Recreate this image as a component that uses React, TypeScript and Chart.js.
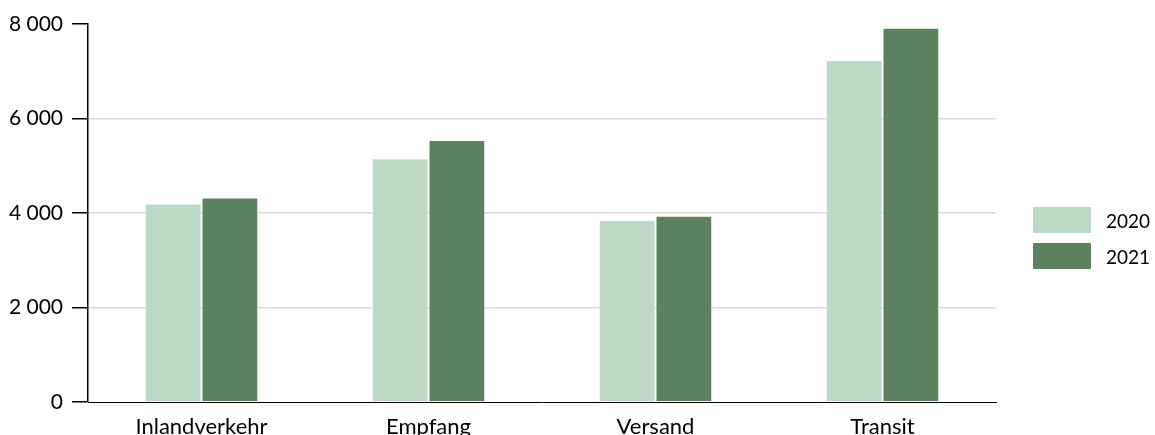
import React, { useEffect, useRef } from "react";
import { Chart, registerables } from "chart.js";

Chart.register(...registerables);

const categories = ["Inlandverkehr", "Empfang", "Versand", "Transit"];
const series2020 = [4200, 5160, 3850, 7240];
const series2021 = [4330, 5545, 3940, 7920];
const seriesLabels = ["2020", "2021"];
const seriesColors = ["#bed8c8", "#5b815e"];
const yTicks = [0, 2000, 4000, 6000, 8000];

const FONT = "Lato, 'Open Sans', sans-serif";

function fmt(v: number): string {
  return String(v).replace(/\B(?=(\d{3})+(?!\d))/g, " ");
}

export default function App() {
  const ref = useRef<HTMLCanvasElement | null>(null);

  useEffect(() => {
    if (!ref.current) return;
    const chart = new Chart(ref.current, {
      type: "bar",
      data: {
        labels: categories,
        datasets: [
          {
            label: seriesLabels[0],
            data: series2020,
            backgroundColor: seriesColors[0],
            borderColor: "rgba(255,255,255,0.45)",
            borderWidth: 1,
            barPercentage: 1,
            categoryPercentage: 0.5,
          },
          {
            label: seriesLabels[1],
            data: series2021,
            backgroundColor: seriesColors[1],
            borderColor: "rgba(255,255,255,0.45)",
            borderWidth: 1,
            barPercentage: 1,
            categoryPercentage: 0.5,
          },
        ],
      },
      options: {
        animation: false,
        responsive: true,
        maintainAspectRatio: false,
        layout: { padding: { top: 24, right: 159, left: 0, bottom: 0 } },
        plugins: {
          legend: { display: false },
          tooltip: { enabled: false },
        },
        scales: {
          x: {
            grid: { display: false, drawTicks: false },
            border: { display: true, color: "#000", width: 1 },
            ticks: {
              color: "#000",
              font: { family: FONT, size: 22 },
              padding: 12,
              maxRotation: 0,
            },
            afterFit: (s: any) => {
              s.height = 74;
            },
          },
          y: {
            min: 0,
            max: 8000,
            afterBuildTicks: (s: any) => {
              s.ticks = yTicks.map((v) => ({ value: v }));
            },
            grid: {
              color: (c: any) =>
                c.tick && (c.tick.value === 0 || c.tick.value === 8000)
                  ? "rgba(0,0,0,0)"
                  : "#d9d9d9",
              lineWidth: 1.5,
              tickColor: "#000",
              tickLength: 16,
              tickWidth: 1.5,
            },
            border: { display: true, color: "#000", width: 1.5 },
            ticks: {
              color: "#000",
              font: { family: FONT, size: 21 },
              padding: 9,
              callback: (v: any) => fmt(Number(v)),
            },
            afterFit: (s: any) => {
              s.width = 88;
            },
          },
        },
      },
    });
    return () => chart.destroy();
  }, []);

  const legendItem = (i: number) => (
    <div key={i} style={{ display: "flex", alignItems: "center", height: 26, marginBottom: i === 0 ? 10 : 0 }}>
      <div style={{ width: 58, height: 26, background: seriesColors[i] }} />
      <span style={{ marginLeft: 15, fontFamily: FONT, fontSize: 19, color: "#000" }}>{seriesLabels[i]}</span>
    </div>
  );

  return (
    <div style={{ position: "fixed", top: 0, left: 0, width: 1155, height: 476, background: "#fff" }}>
      <canvas ref={ref} />
      <div style={{ position: "absolute", left: 1033, top: 207 }}>
        {legendItem(0)}
        {legendItem(1)}
      </div>
    </div>
  );
}
